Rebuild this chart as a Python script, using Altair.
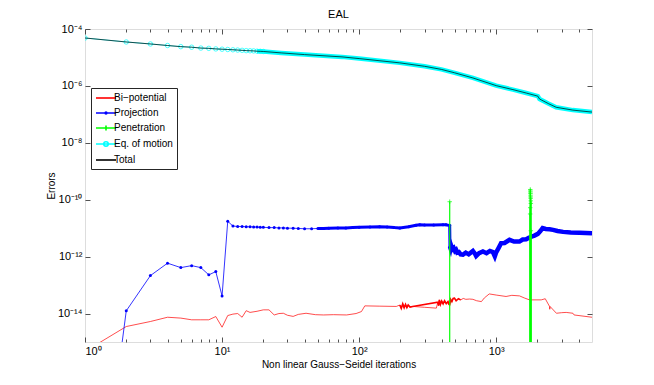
import altair as alt
import pandas as pd

FONT = "Liberation Sans"
INK = "#262626"

# ---------------- data (x = iteration, values given as log10 of the error) ----------------
total_x = [1, 2, 3, 4, 5, 6, 7, 8, 9, 10, 11, 12, 13, 14, 15, 16, 17, 18, 19, 20,
           27, 40, 75, 100, 198, 300, 398, 498, 676, 1000, 1324, 1656, 2013, 2070, 2400, 2737, 3620, 5000]
total_log = [-4.316, -4.456, -4.526, -4.58, -4.62, -4.64, -4.67, -4.68, -4.70, -4.71,
             -4.72, -4.73, -4.74, -4.75, -4.76, -4.765, -4.77, -4.78, -4.785, -4.79,
             -4.84, -4.90, -4.98, -5.04, -5.19, -5.31, -5.42, -5.54, -5.72, -5.99,
             -6.13, -6.25, -6.36, -6.46, -6.62, -6.75, -6.85, -6.92]
eq_x = list(total_x)
eq_log = list(total_log)

proj_x = [1, 2, 3, 4, 5, 6, 7, 8, 9, 10, 11, 12, 13, 14, 15, 16, 17, 18, 19, 20,
          22, 24, 26, 28, 30, 33, 36, 40, 45, 50, 55, 60, 70, 80, 90, 100, 120, 141, 160, 180,
          198, 230, 260, 277, 300, 350, 409, 430, 458,
          460, 465, 470, 480, 490, 500, 510, 520, 535, 550, 572, 600, 630, 676, 700,
          714, 750, 800, 850, 900, 946, 977, 1000, 1040, 1086, 1150, 1250, 1350, 1478, 1560,
          1656, 1730, 1806, 1900, 2013, 2100, 2180, 2300, 2450, 2600, 2800, 3080, 3500, 4060, 5000]
proj_log = [-25, -13.905, -12.667, -12.23, -12.386, -12.316, -12.386, -12.64, -12.526, -13.38,
            -10.758, -10.925, -10.94, -10.94, -10.95, -10.95, -10.96, -10.96, -10.97, -10.97,
            -10.98, -10.98, -10.99, -10.99, -11.0, -11.0, -11.01, -11.02, -11.02, -11.01,
            -11.01, -11.0, -10.99, -10.99, -10.98, -10.97, -10.96, -10.95, -10.96, -10.98,
            -10.99, -10.95, -10.90, -10.88, -10.89, -10.89, -10.88, -10.88, -10.91,
            -11.65, -11.72, -11.62, -11.74, -11.70, -11.80, -11.76, -11.86, -11.84, -11.92,
            -11.93, -11.86, -11.92, -11.80, -11.90, -11.98, -11.88, -11.82, -11.88, -11.80,
            -11.84, -11.99, -11.85, -11.70, -11.53, -11.52, -11.41, -11.47, -11.47, -11.40,
            -11.39, -11.34, -11.30, -11.26, -11.20, -11.10, -11.00, -11.03, -11.04, -11.06,
            -11.10, -11.13, -11.15, -11.16, -11.18]

bipot_x = [1, 2, 3, 4, 5, 6, 7, 8, 9, 10, 11, 12, 13, 14, 15, 16, 18, 20, 22, 24,
           26, 28, 30, 33, 36, 41, 48, 55, 65, 81, 95, 104, 110, 140, 187, 198, 203, 208, 213, 218,
           223, 228, 235, 246, 300, 366, 375, 380, 385, 392, 400, 410, 420, 432, 445, 452, 458, 465, 475, 485,
           496, 510, 530, 550, 575, 600, 640, 676, 720, 780, 820, 890, 1000, 1180, 1300, 1480, 1600, 1750, 2130, 2280,
           2450, 2460, 2470, 2750, 3000, 3240, 3630, 3700, 5000]
bipot_log = [-15.33, -14.456, -14.28, -14.13, -14.16, -14.22, -14.22, -14.22, -14.105, -14.48,
             -14.07, -14.02, -14.00, -14.13, -13.90, -13.96, -13.92, -13.87, -13.87, -14.05,
             -14.00, -13.99, -14.06, -14.10, -14.03, -13.99, -14.04, -14.05, -14.04, -14.05,
             -14.00, -13.93, -13.73, -13.74, -13.75, -13.70, -13.82, -13.66, -13.80, -13.68,
             -13.79, -13.70, -13.77, -13.75, -13.78, -13.81, -13.60, -13.72, -13.52, -13.68,
             -13.56, -13.66, -13.55, -13.65, -13.58, -13.68, -13.69, -13.50, -13.58, -13.47,
             -13.46, -13.55, -13.48, -13.52, -13.47, -13.50, -13.49, -13.50, -13.55, -13.58,
             -13.45, -13.31, -13.35, -13.40, -13.36, -13.38, -13.45, -13.52, -13.52, -13.48,
             -13.75, -13.85, -13.75, -13.99, -13.97, -13.96, -13.99, -14.05, -14.13]

pen_x = [457, 458, 459, 1768, 1769, 1770, 1771, 1772, 1773, 1774, 1775, 1776, 1777, 1778, 1779,
         1780, 1781, 1782, 1783, 1784, 1785, 1786, 1787, 1788, 1789, 1790, 1791, 1792]
pen_log = [-30, -10.07, -30, -30, -10.5, -30, -10.28, -30, -9.64, -30, -9.69, -30, -9.73, -30, -9.78,
           -30, -9.84, -30, -9.90, -30, -9.95, -30, -10.04, -30, -10.13, -30, -11.09, -30]

series_names = ["Bi\u2212potential", "Projection", "Penetration", "Eq. of motion", "Total"]
series_colors = ["#ff0000", "#0000ff", "#00ff00", "#00ffff", "#000000"]

x_major = [1, 10, 100, 1000]
x_minor = [2, 3, 4, 5, 6, 7, 8, 9, 20, 30, 40, 50, 60, 70, 80, 90,
           200, 300, 400, 500, 600, 700, 800, 900, 2000, 3000, 4000]
y_major = [1e-14, 1e-12, 1e-10, 1e-8, 1e-6, 1e-4]

assert len(total_x) == len(total_log)
assert len(proj_x) == len(proj_log)
assert len(bipot_x) == len(bipot_log)
assert len(pen_x) == len(pen_log)


def frame(xs, logs, name):
    return pd.DataFrame({"x": xs, "y": [10.0 ** v for v in logs], "series": name})


d_bi = frame(bipot_x, bipot_log, series_names[0])
d_pr = frame(proj_x, proj_log, series_names[1])
d_pe = frame(pen_x, pen_log, series_names[2])
d_eq = frame(eq_x, eq_log, series_names[3])
d_to = frame(total_x, total_log, series_names[4])
d_all = pd.concat([d_bi, d_pr, d_pe, d_eq, d_to], ignore_index=True)

W, H = 507, 313

xscale = alt.Scale(type="log", domain=[1, 5000], nice=False)
yscale = alt.Scale(type="log", domain=[1e-15, 1e-4], nice=False)

sup = {"0": "\u2070", "1": "\u00b9", "2": "\u00b2", "3": "\u00b3", "4": "\u2074",
       "5": "\u2075", "6": "\u2076", "7": "\u2077", "8": "\u2078", "9": "\u2079", "-": "\u207b"}


def sup_label_expr(exps):
    expr = "''"
    for e in exps:
        s = "10" + "".join(sup[c] for c in str(e))
        expr = f"round(log(datum.value)/LN10) == {e} ? '{s}' : ({expr})"
    return expr


x_label_expr = sup_label_expr([0, 1, 2, 3])
y_label_expr = sup_label_expr([-14, -12, -10, -8, -6, -4])

# legend symbols: line + marker, custom paths (unit = sqrt(size)/2 px)
P_LINE = "M-1,0H3"
P_DOT = "M-1,0H3M1.18,0A0.18,0.18,0,1,1,0.82,0A0.18,0.18,0,1,1,1.18,0"
P_PLUS = "M-1,0H3M1,-0.5V0.5"
P_CIRC = "M-1,0H3M1.45,0A0.45,0.45,0,1,1,0.55,0A0.45,0.45,0,1,1,1.45,0"
legend_shapes = [P_LINE, P_DOT, P_PLUS, P_CIRC, P_LINE]

legend = alt.Legend(
    title=None, orient="none", legendX=6, legendY=59, direction="vertical",
    fillColor="white", strokeColor=INK, padding=4, cornerRadius=0,
    symbolStrokeWidth=1.6, symbolOpacity=1,
    labelFont=FONT, labelFontSize=10,
    labelColor="#000000", labelOffset=7, rowPadding=4,
)

NOAX = None


def X(axis=NOAX):
    return alt.X("x:Q", scale=xscale, axis=axis)


def Y(axis=NOAX):
    return alt.Y("y:Q", scale=yscale, axis=axis)


# ---------------- data layers ----------------
bi_line = alt.Chart(d_bi).mark_line(strokeWidth=0.7, clip=True, color="#ff0000").encode(x=X(), y=Y())
bi_dense = alt.Chart(d_bi).transform_filter(
    "(datum.x >= 198 && datum.x <= 246) || (datum.x >= 375 && datum.x <= 560)"
).mark_line(strokeWidth=1.6, clip=True, color="#ff0000").encode(x=X(), y=Y())

pr_line = alt.Chart(d_pr).mark_line(strokeWidth=0.8, clip=True, color="#0000ff").encode(x=X(), y=Y())
pr_band = alt.Chart(d_pr).transform_filter("datum.x >= 50").mark_line(
    strokeWidth=3, clip=True, color="#0000ff").encode(x=X(), y=Y())
pr_noisy = alt.Chart(d_pr).transform_filter("datum.x >= 460").mark_line(
    strokeWidth=4.5, clip=True, color="#0000ff").encode(x=X(), y=Y())
pr_pts = alt.Chart(d_pr).mark_point(
    shape="circle", filled=True, size=9, opacity=1, color="#0000ff", clip=True).encode(x=X(), y=Y())

pe_line = alt.Chart(d_pe).mark_line(strokeWidth=0.8, clip=True, color="#00ff00").encode(x=X(), y=Y())
pe_pts = alt.Chart(d_pe).mark_point(
    shape="M-1,0H1M0,-1V1", filled=False, size=20, strokeWidth=0.7, opacity=1,
    color="#00ff00", clip=True).encode(x=X(), y=Y())

eq_band = alt.Chart(d_eq).transform_filter("datum.x >= 18").mark_line(
    strokeWidth=4.5, clip=True, color="#00ffff").encode(x=X(), y=Y())
eq_line = alt.Chart(d_eq).mark_line(strokeWidth=0.8, clip=True, color="#00ffff").encode(x=X(), y=Y())
eq_pts = alt.Chart(d_eq).transform_filter("datum.x <= 20").mark_point(
    shape="circle", filled=False, size=20, strokeWidth=0.7, opacity=1,
    color="#00ffff", clip=True).encode(x=X(), y=Y())

to_line = alt.Chart(d_to).mark_line(strokeWidth=0.7, clip=True, color="#000000").encode(x=X(), y=Y())

# invisible layer that carries the legend (line + marker symbols)
legend_layer = alt.Chart(d_all).mark_point(
    opacity=0, size=100, strokeWidth=0.8, filled=False, clip=True).encode(
    x=X(), y=Y(),
    color=alt.Color("series:N", scale=alt.Scale(domain=series_names, range=series_colors), legend=legend),
    shape=alt.Shape("series:N", scale=alt.Scale(domain=series_names, range=legend_shapes), legend=legend),
)

# ---------------- axis carrier layers (MATLAB-style box with inward ticks) ----------------
common = dict(grid=False, domain=False, tickColor=INK, tickWidth=0.8)

ax_x_lab = alt.Axis(orient="bottom", values=x_major, labelExpr=x_label_expr, ticks=False,
                    labelFont=FONT, labelFontSize=11, labelColor="#000000", labelPadding=3,
                    title="Non linear Gauss\u2212Seidel iterations", titleFont=FONT, titleFontSize=10,
                    titleFontWeight="normal", titleColor="#000000", titlePadding=3,
                    grid=False, domain=False)
ax_y_lab = alt.Axis(orient="left", values=y_major, labelExpr=y_label_expr, ticks=False,
                    labelFont=FONT, labelFontSize=11, labelColor="#000000", labelPadding=3,
                    title="Errors", titleFont=FONT, titleFontSize=10, titleFontWeight="normal",
                    titleColor="#000000", titleX=-29, titleY=H / 2, grid=False, domain=False)

ax_xb_maj = alt.Axis(orient="top", offset=-H, values=x_major, tickSize=5, labels=False, title=None, **common)
ax_xt_maj = alt.Axis(orient="bottom", offset=-H, values=x_major, tickSize=5, labels=False, title=None, **common)
ax_xb_min = alt.Axis(orient="top", offset=-H, values=x_minor, tickSize=3, labels=False, title=None, **common)
ax_xt_min = alt.Axis(orient="bottom", offset=-H, values=x_minor, tickSize=3, labels=False, title=None, **common)
ax_yl = alt.Axis(orient="right", offset=-W, values=y_major, tickSize=5, labels=False, title=None, **common)
ax_yr = alt.Axis(orient="left", offset=-W, values=y_major, tickSize=5, labels=False, title=None, **common)


def carrier(ax_x, ax_y):
    return alt.Chart(d_to).mark_point(opacity=0, size=1).encode(x=X(ax_x), y=Y(ax_y))


carriers = [
    carrier(ax_x_lab, ax_y_lab),
    carrier(ax_xb_maj, ax_yl),
    carrier(ax_xt_maj, ax_yr),
    carrier(ax_xb_min, NOAX),
    carrier(ax_xt_min, NOAX),
]

chart = alt.layer(
    bi_line, bi_dense, pr_line, pr_band, pr_noisy, pr_pts, pe_line, pe_pts,
    eq_band, eq_line, eq_pts, to_line, legend_layer, *carriers
).resolve_axis(x="independent", y="independent").properties(
    width=W, height=H,
    title=alt.TitleParams("EAL", font=FONT, fontSize=11, fontWeight="normal", color="#000000", offset=3),
    autosize=alt.AutoSizeParams(type="none"),
    padding={"left": 77, "top": 21, "right": 54, "bottom": 35},
).configure_view(stroke=INK, strokeWidth=1).configure(background="white")

chart.save("out.html", embed_options={"renderer": "svg", "actions": False})
